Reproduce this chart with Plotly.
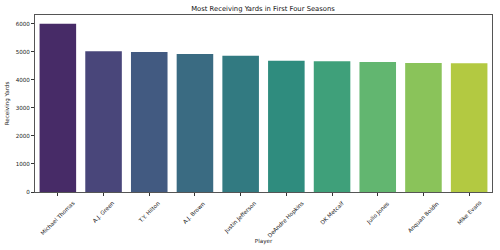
import colorsys
import plotly.graph_objects as go
from plotly.colors import sample_colorscale, unlabel_rgb

players = ["Michael Thomas", "A.J. Green", "T.Y. Hilton", "A.J. Brown", "Justin Jefferson",
           "DeAndre Hopkins", "DK Metcalf", "Julio Jones", "Anquan Boldin", "Mike Evans"]
yards = [6010, 5025, 5000, 4928, 4866, 4688, 4665, 4640, 4605, 4593]
y_ticks = [0, 1000, 2000, 3000, 4000, 5000, 6000]

# seaborn-like viridis palette, desaturated by 0.75
n = len(players)
pos = [(i + 1) / (n + 1) for i in range(n)]
raw = sample_colorscale("Viridis", pos)
colors = []
for c in raw:
    r, g, b = [v / 255 for v in unlabel_rgb(c)]
    h, l, s = colorsys.rgb_to_hls(r, g, b)
    r, g, b = colorsys.hls_to_rgb(h, l, s * 0.75)
    colors.append("rgb(%d,%d,%d)" % (round(r * 255), round(g * 255), round(b * 255)))

FONT = "DejaVu Sans"
TS = 5.6
fig = go.Figure(go.Bar(x=players, y=yards, marker_color=colors, width=0.8,
                       marker_line_width=0))

for p in players:
    fig.add_annotation(x=p, xref="x", y=-0.03, yref="paper", text=p, showarrow=False,
                       textangle=-45, xanchor="center", yanchor="top",
                       font=dict(family=FONT, size=TS, color="#222"))

fig.update_layout(
    width=500, height=250,
    margin=dict(l=33, r=7, t=15, b=58),
    plot_bgcolor="white", paper_bgcolor="white",
    showlegend=False, bargap=0.2,
    title=dict(text="Most Receiving Yards in First Four Seasons", x=(33 + 493) / 2 / 500,
               xanchor="center", y=1 - 9 / 250, yanchor="middle", yref="container",
               font=dict(family=FONT, size=6.8, color="#111")),
    font=dict(family=FONT, size=TS, color="#222"),
)
fig.update_xaxes(range=[-0.5, n - 0.5], showticklabels=False, ticks="outside", ticklen=3,
                 tickcolor="#333", tickwidth=0.7, showline=True, linecolor="#555", linewidth=1,
                 mirror=True, showgrid=False,
                 title=dict(text="Player", standoff=44, font=dict(family=FONT, size=TS)))
fig.update_yaxes(range=[0, 6320], tickvals=y_ticks, ticks="outside", ticklen=3,
                 tickcolor="#333", tickwidth=0.7, showline=True, linecolor="#555", linewidth=1,
                 mirror=True, showgrid=False, zeroline=False,
                 tickfont=dict(family=FONT, size=TS),
                 title=dict(text="Receiving Yards", standoff=5, font=dict(family=FONT, size=TS)))

fig.write_html("out.html")
